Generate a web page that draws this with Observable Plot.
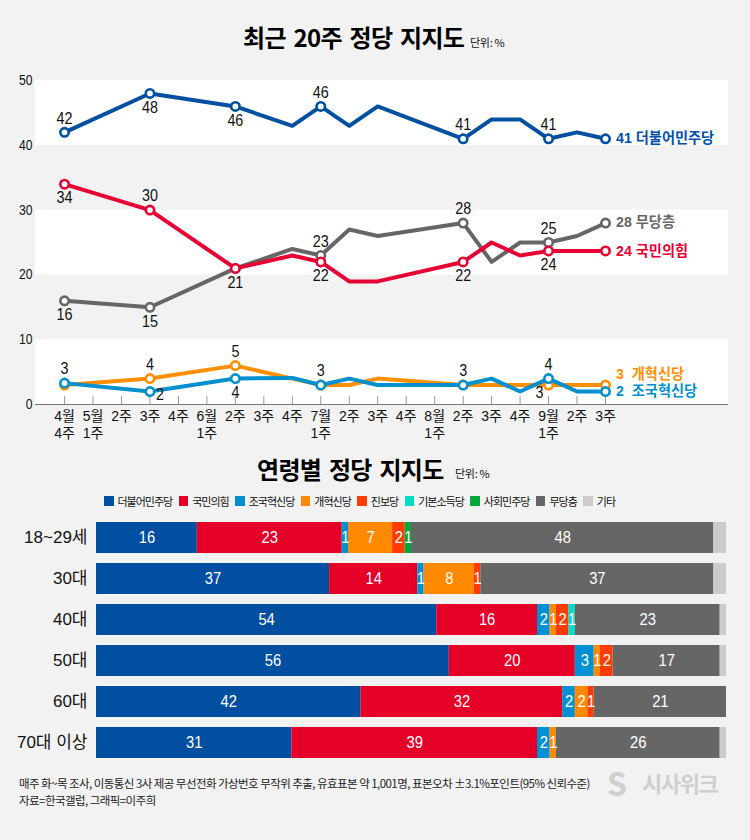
<!DOCTYPE html>
<html>
<head>
<meta charset="utf-8">
<script src="https://cdn.jsdelivr.net/npm/d3@7"></script>
<script src="https://cdn.jsdelivr.net/npm/@observablehq/plot@0.6"></script>
<style>
  body { margin: 0; width: 750px; height: 840px; background: #f2f2f2; position: relative; overflow: hidden;
    font-family: "Liberation Sans", "Noto Sans CJK KR", sans-serif; color: #111; }
  .abs { position: absolute; white-space: nowrap; }
  .title { font-family: "Noto Sans CJK KR", sans-serif; font-weight: 700; font-size: 24px; line-height: 30px; letter-spacing: -.7px; word-spacing: 3px; color: #000; }
  .unit { font-family: "Noto Sans CJK KR", sans-serif; font-size: 11px; letter-spacing: -.3px; }
  #chart_line, #chart_bars { position: absolute; left: 0; }
  #legend { left: 104px; top: 493px; display: flex; font-family: "Noto Sans CJK KR", sans-serif; font-size: 11px; line-height: 16px; letter-spacing: -1px; }
  #legend span { display: flex; align-items: center; margin-right: 6.5px; }
  #legend i { width: 9.5px; height: 9.5px; margin-right: 4px; }
  .note { left: 19px; font-family: "Noto Sans CJK KR", sans-serif; font-size: 11.5px; line-height: 16px; letter-spacing: -.55px; color: #222; }
  .mark { font-family: "Noto Sans CJK KR", sans-serif; font-weight: 700; color: #cfcfcf; }
</style>
</head>
<body>
<div class="abs title" style="left:243px;top:22px">최근 20주 정당 지지도</div>
<div class="abs unit" style="left:470px;top:34px">단위: %</div>
<div id="chart_line"></div>
<div class="abs title" style="left:257px;top:454px">연령별 정당 지지도</div>
<div class="abs unit" style="left:455px;top:465px">단위: %</div>
<div id="legend" class="abs"></div>
<div id="chart_bars"></div>
<div class="abs note" style="top:775px">매주 화~목 조사, 이동통신 3사 제공 무선전화 가상번호 무작위 추출, 유효표본 약 1,001명, 표본오차 ±3.1%포인트(95% 신뢰수준)</div>
<div class="abs note" style="top:792px">자료=한국갤럽, 그래픽=이주희</div>
<div class="abs mark" style="left:607px;top:762px;font-size:32px;line-height:40px">S</div>
<div class="abs mark" style="left:642px;top:768px;font-size:22px;line-height:28px;letter-spacing:-1.4px">시사위크</div>
<script>
// 위쪽 차트: 주차, 정당별 값 (조사 없는 주는 null)
const weekLabels = ["4월\n4주","5월\n1주","2주","3주","4주","6월\n1주","2주","3주","4주","7월\n1주","2주","3주","4주","8월\n1주","2주","3주","4주","9월\n1주","2주","3주"]
const minjoo  = [42,null,null,48,null,null,46,null,43,46,43,46,null,null,41,44,44,41,42,41]
const ppp     = [34,null,null,30,null,null,21,null,23,22,19,19,null,null,22,25,23,23.7,23.7,23.7]
const noParty = [16,null,null,15,null,null,21,null,24,23,27,26,null,null,28,22,25,25,26,28]
const reform  = [3,null,null,4,null,null,6,null,4,3,3,4,null,null,3,3,3,3,3,3]
const rebuild = [3.3,null,null,2,null,null,4,null,4.1,3,4,3,null,null,3,4,2,4,2,2]

// 빈 동그라미 찍는 주차와 그 숫자 라벨
const markedWeeks = [0,3,6,9,14,17,19]
const minjooLabels  = ["42","48","46","46","41","41",null]
const minjooSides   = ["up","down","down","up","up","up",null]
const pppLabels     = ["34","30","21","22","22","24",null]
const pppSides      = ["down","up","down","down","down","down",null]
const noPartyLabels = ["16","15",null,"23","28","25",null]
const noPartySides  = ["down","down",null,"up","up","up",null]
const reformLabels  = [null,"4","5",null,null,"3",null]
const reformSides   = [null,"up","up",null,null,"leftDown",null]
const rebuildLabels = ["3","2","4","3","3","4",null]
const rebuildSides  = ["up","right","down","up","up","up",null]

const endNames = ["41 더불어민주당","24 국민의힘","28 무당층","3  개혁신당","2  조국혁신당"]

// 아래쪽 차트
const ages = ["18~29세","30대","40대","50대","60대","70대 이상"]
const parties = ["더불어민주당","국민의힘","조국혁신당","개혁신당","진보당","기본소득당","사회민주당","무당층","기타"]
const partyColors = ["#004fa0","#e60027","#0090d4","#ff8a00","#ff3c00","#00dcc8","#00a93a","#666666","#cccccc"]
const share18 = [16,23,1,7,2,0,1,48,2]
const share30 = [37,14,1,8,1,0,0,37,2]
const share40 = [54,16,2,1,2,1,0,23,1]
const share50 = [56,20,3,1,2,0,0,17,1]
const share60 = [42,32,2,2,1,0,0,21,0]
const share70 = [31,39,2,1,0,0,0,26,1]

const BLUE = "#004fa0", RED = "#e60033", GRAY = "#666666", ORANGE = "#ff8f00", CYAN = "#0090d0"
const font = '"Liberation Sans","Noto Sans CJK KR",sans-serif'

const toLine = values => values.map((v, i) => ({ week: i, value: v })).filter(d => d.value !== null)
const toDots = values => markedWeeks.map(w => ({ week: w, value: values[w] }))
const toLabels = (values, labels, sides) => markedWeeks
  .map((w, i) => ({ week: w, value: values[w], text: labels[i], side: sides[i] }))
  .filter(d => d.text !== null)

const allLabels = [
  ...toLabels(noParty, noPartyLabels, noPartySides),
  ...toLabels(reform, reformLabels, reformSides),
  ...toLabels(rebuild, rebuildLabels, rebuildSides),
  ...toLabels(minjoo, minjooLabels, minjooSides),
  ...toLabels(ppp, pppLabels, pppSides)
]
const labelMark = (side, dx, dy) => Plot.text(allLabels.filter(d => d.side === side), {
  x: "week", y: "value", text: "text", dx, dy, fontSize: 16.5, fill: "#111"
})
const seriesMarks = (values, color) => [
  Plot.line(toLine(values), { x: "week", y: "value", stroke: color, strokeWidth: 4, curve: "linear" }),
  Plot.dot(toDots(values), { x: "week", y: "value", r: 4.2, fill: "white", stroke: color, strokeWidth: 2.6 })
]
const endMark = (name, value, color, dy) => Plot.text([name], {
  x: 19, y: () => value, text: d => d, dx: 10.5, dy, textAnchor: "start", fontSize: 14.5, fontWeight: 700, fill: color
})
// 숫자와 끝 라벨을 원본처럼 좁게 눌러줌 (DOM에 붙은 뒤에 길이를 잴 수 있음)
const condense = (chart) => {
  d3.select(chart).selectAll('text').each(function () {
    if (this.querySelector('tspan')) return
    const s = this.textContent
    const k = /^\d+$/.test(s) ? 0.87 : /^\d+ /.test(s) ? 0.98 : 1
    if (k < 1) {
      this.setAttribute('textLength', this.getComputedTextLength() * k)
      this.setAttribute('lengthAdjust', 'spacingAndGlyphs')
    }
  })
}

const lineChart = Plot.plot({
  width: 750, height: 394,
  marginTop: 20, marginBottom: 50, marginLeft: 35, marginRight: 22,
  style: { background: "none", fontFamily: font },
  x: { domain: [-1.02, 23.32] },
  y: { domain: [0, 50] },
  marks: [
    Plot.rect([[40,50],[20,30],[0,10]], { x1: -1.02, x2: 23.32, y1: d => d[0], y2: d => d[1], fill: "white" }),
    Plot.ruleX(d3.range(20), { y1: 0, y2: 1.25, stroke: "#999", strokeWidth: 1 }),
    Plot.ruleY([0], { stroke: "#777", strokeWidth: 1 }),
    Plot.axisY({ ticks: [0,10,20,30,40,50], tickSize: 0, tickPadding: 3, label: null, fontSize: 14, fill: "#111" }),
    Plot.axisX(d3.range(20), { tickSize: 0, tickPadding: 5, label: null, tickFormat: i => weekLabels[i], fontSize: 14, lineHeight: 1.2, fill: "#111" }),
    ...seriesMarks(noParty, GRAY),
    ...seriesMarks(reform, ORANGE),
    ...seriesMarks(rebuild, CYAN),
    ...seriesMarks(minjoo, BLUE),
    ...seriesMarks(ppp, RED),
    labelMark("up", 0, -14),
    labelMark("down", 0, 14),
    labelMark("right", 10, 3),
    labelMark("leftDown", -9, 8),
    endMark(endNames[0], 41, "#0050b0", 0),
    endMark(endNames[1], 24, RED, 2),
    endMark(endNames[2], 28, GRAY, -1),
    endMark(endNames[3], 3, ORANGE, -11),
    endMark(endNames[4], 2, CYAN, 0)
  ]
})
d3.select('#chart_line').style('top', '60px').append(() => lineChart)
condense(lineChart)

// 범례
const legend = d3.select('#legend').selectAll('span').data(parties).join('span')
legend.append('i').style('background', (d, i) => partyColors[i])
legend.append('b').style('font-weight', 400).text(d => d)

const rows = [share18, share30, share40, share50, share60, share70].flatMap((shares, r) =>
  shares.map((v, p) => ({ age: ages[r], party: parties[p], value: v })).filter(d => d.value > 0))

const barChart = Plot.plot({
  width: 750, height: 258,
  marginTop: 0, marginBottom: 0, marginLeft: 96, marginRight: 24,
  style: { background: "none", fontFamily: font },
  x: { domain: [0, 100], axis: null },
  y: { domain: ages, padding: 0.24, label: null },
  color: { domain: parties, range: partyColors },
  marks: [
    Plot.axisY({ tickSize: 0, tickPadding: 9, label: null, fontSize: 17, fill: "#111" }),
    Plot.barX(rows, { x: "value", y: "age", fill: "party", order: parties }),
    Plot.text(rows, Plot.stackX({
      x: "value", y: "age", z: "party", order: parties,
      text: d => d.party === "기타" ? "" : d.value,
      fill: "white", fontSize: 17
    }))
  ]
})
d3.select('#chart_bars').style('top', '510.5px').append(() => barChart)
condense(barChart)
</script>
</body>
</html>
